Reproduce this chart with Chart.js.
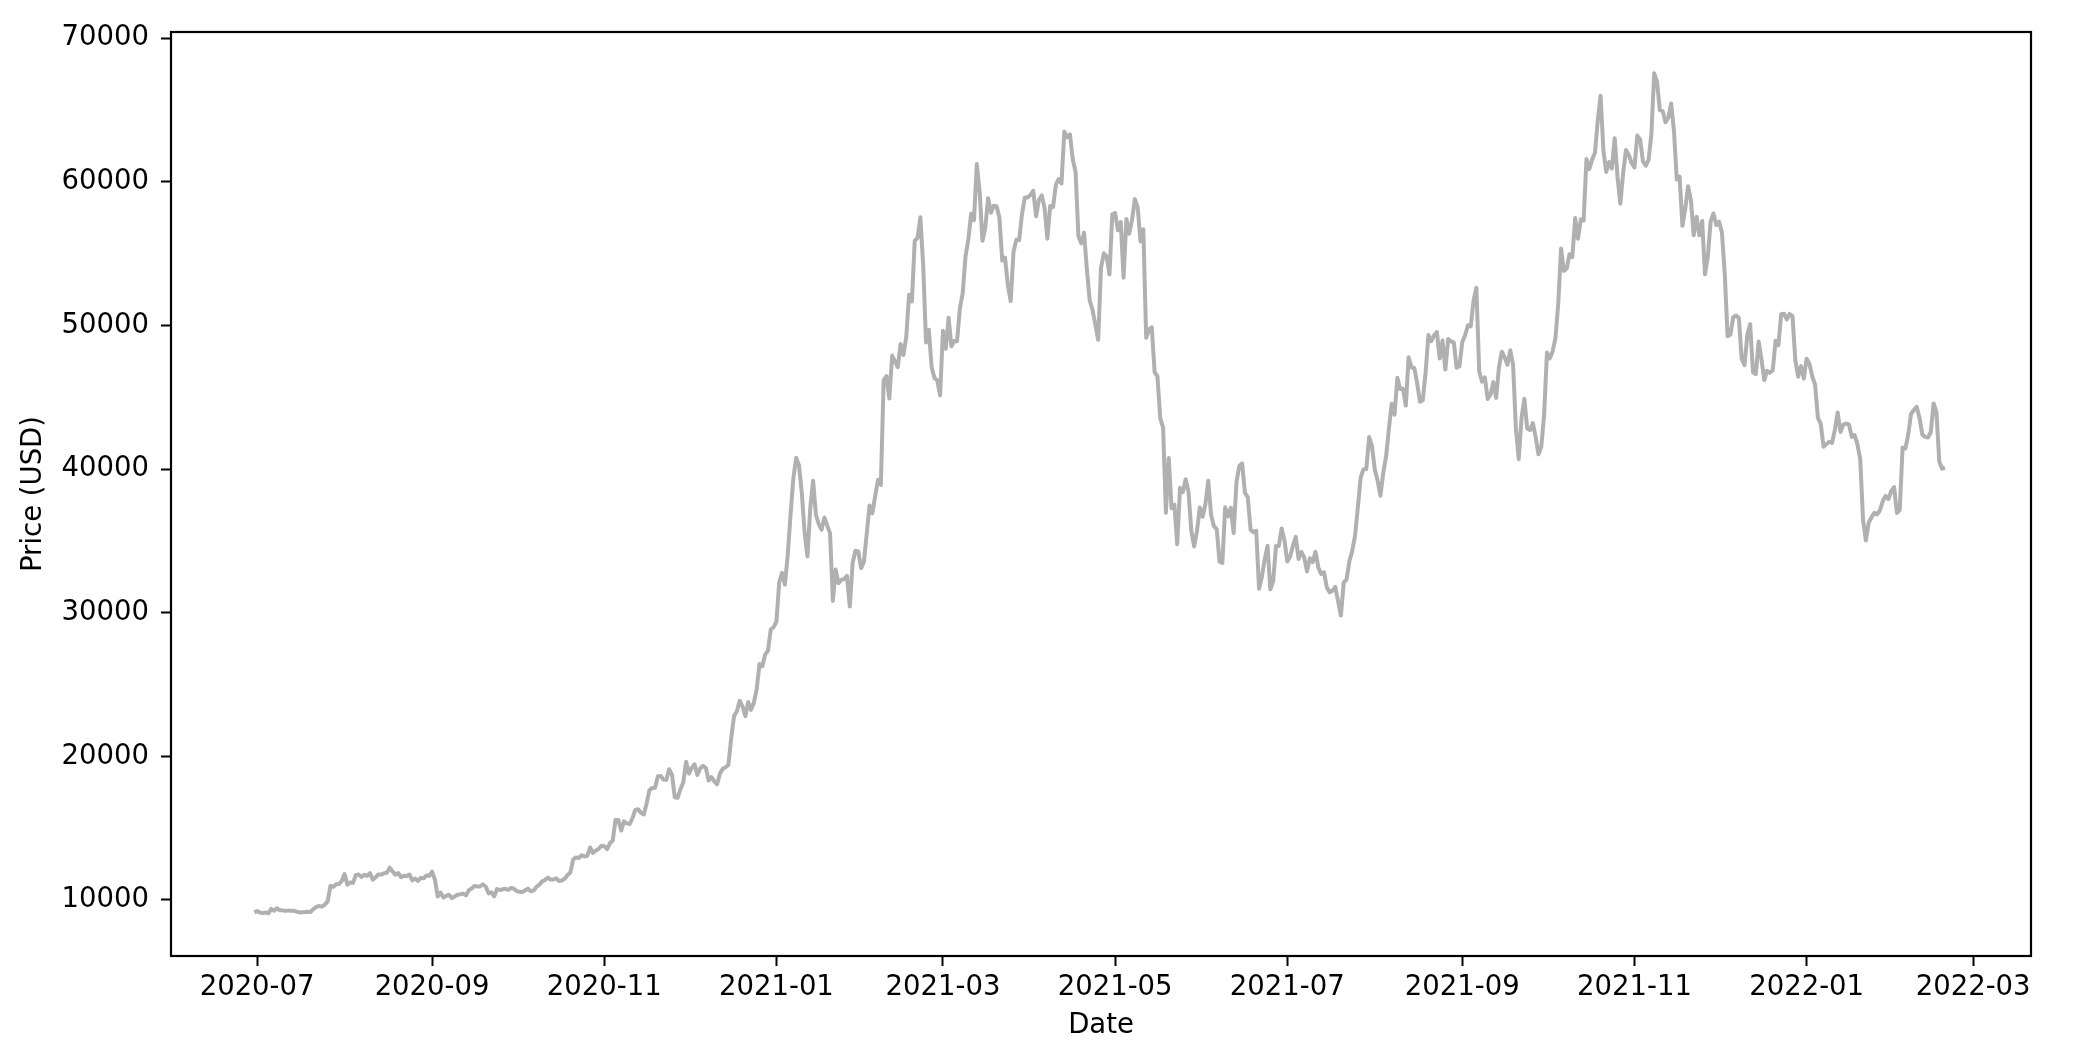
<!DOCTYPE html>
<html>
<head>
<meta charset="utf-8">
<script src="https://cdn.jsdelivr.net/npm/chart.js@4.4.1/dist/chart.umd.min.js"></script>
<style>
  html, body { margin: 0; padding: 0; background: #fff; }
  canvas { display: block; }
</style>
</head>
<body>
<canvas id="myChart" width="2086" height="1060"></canvas>
<script>
// 日次終値 (USD)、月ごとの配列
const jun2020 = [9137];
const jul2020 = [9228, 9123, 9087, 9132, 9073, 9375, 9252, 9428, 9277, 9278, 9240, 9276, 9243, 9243, 9192, 9132,
  9151, 9159, 9185, 9165, 9374, 9525, 9581, 9536, 9677, 9905, 10990, 10912, 11100, 11111, 11323];
const aug2020 = [11802, 11071, 11219, 11191, 11744, 11768, 11601, 11755, 11675, 11878, 11411, 11584, 11784, 11768,
  11865, 11892, 12254, 11991, 11758, 11878, 11592, 11681, 11664, 11774, 11366, 11488, 11323, 11542, 11507, 11711, 11680];
const sep2020 = [11970, 11414, 10245, 10511, 10169, 10280, 10370, 10131, 10242, 10364, 10400, 10442, 10323, 10680,
  10796, 10974, 10948, 10944, 11094, 10938, 10462, 10538, 10246, 10760, 10692, 10750, 10776, 10709, 10844, 10784];
const oct2020 = [10619, 10575, 10550, 10677, 10793, 10604, 10668, 10915, 11065, 11296, 11384, 11555, 11426, 11430,
  11505, 11322, 11358, 11484, 11742, 11916, 12823, 12965, 12931, 13108, 13031, 13075, 13654, 13271, 13438, 13547, 13781];
const nov2020 = [13737, 13550, 13950, 14133, 15579, 15565, 14833, 15479, 15332, 15290, 15701, 16276, 16317, 16068,
  15955, 16716, 17645, 17804, 17817, 18621, 18642, 18370, 18364, 19107, 18732, 17150, 17108, 17717, 18177, 19625];
const dec2020 = [18802, 19201, 19445, 18699, 19154, 19345, 19191, 18321, 18553, 18264, 18058, 18803, 19142, 19246,
  19417, 21310, 22805, 23137, 23869, 23477, 22803, 23783, 23241, 23735, 24664, 26437, 26272, 27084, 27362, 28840, 29001];
const jan2021 = [29374, 32127, 32782, 31971, 33992, 36824, 39371, 40797, 40254, 38356, 35566, 33922, 37316, 39187,
  36825, 36178, 35791, 36630, 36069, 35547, 30825, 33005, 32067, 32289, 32366, 32569, 30432, 33466, 34316, 34269, 33114];
const feb2021 = [33538, 35510, 37472, 36926, 38144, 39266, 38903, 46196, 46481, 44918, 47909, 47504, 47106, 48717,
  47945, 49199, 52149, 51679, 55888, 56099, 57539, 54207, 48824, 49705, 47093, 46339, 46188, 45137];
const mar2021 = [49631, 48378, 50538, 48561, 48927, 48912, 51206, 52246, 54824, 56008, 57805, 57332, 61243, 59302,
  55907, 56804, 58870, 57858, 58346, 58313, 57523, 54529, 54738, 52774, 51704, 55137, 55974, 55947, 57750, 58918, 58918];
const apr2021 = [59095, 59384, 57603, 58758, 59057, 58192, 56048, 58323, 58245, 59793, 60204, 59893, 63503, 63109,
  63314, 61572, 60683, 56216, 55724, 56473, 53906, 51762, 51093, 50050, 49004, 54021, 55033, 54824, 53555, 57750];
const may2021 = [57828, 56631, 57200, 53333, 57424, 56396, 57356, 58803, 58232, 55859, 56704, 49150, 49716, 49880,
  46760, 46456, 43537, 42909, 36964, 40784, 37280, 37528, 34770, 38705, 38402, 39294, 38436, 35697, 34616, 35678, 37332];
const jun2021 = [36684, 37575, 39187, 36825, 36026, 35820, 33560, 33472, 37345, 36703, 37313, 35551, 39097, 40219,
  40406, 38347, 38053, 35787, 35615, 35698, 31676, 32505, 33723, 34662, 31637, 32186, 34650, 34649, 35867, 35040];
const jul2021 = [33572, 33897, 34668, 35287, 33746, 34235, 33855, 32877, 33798, 33520, 34240, 33155, 32702, 32822,
  31780, 31421, 31533, 31796, 30817, 29807, 32110, 32313, 33581, 34292, 35350, 37337, 39406, 39995, 40008, 42235, 41626];
const aug2021 = [39974, 39201, 38152, 39747, 40869, 42816, 44555, 43798, 46365, 45585, 45593, 44428, 47793, 47096,
  47047, 46004, 44695, 44801, 46717, 49339, 48905, 49321, 49546, 47706, 48960, 46942, 49058, 48903, 48829, 47054, 47166];
const sep2021 = [48847, 49327, 50025, 49944, 51753, 52633, 46811, 46091, 46391, 44883, 45201, 46063, 44963, 47092,
  48176, 47783, 47267, 48278, 47260, 42844, 40694, 43575, 44895, 42840, 42716, 43208, 42235, 41034, 41564, 43790];
const oct2021 = [48116, 47711, 48199, 49112, 51514, 55361, 53806, 53967, 54968, 54771, 57484, 56041, 57401, 57321,
  61593, 60892, 61553, 62026, 64262, 65993, 62210, 60692, 61393, 60931, 63039, 60363, 58482, 60622, 62228, 61889, 61318];
const nov2021 = [61005, 63226, 62970, 61452, 61126, 61528, 63326, 67566, 66971, 64995, 64949, 64155, 64469, 65466,
  63557, 60161, 60368, 56942, 58119, 59697, 58730, 56289, 57569, 56280, 57274, 53569, 54815, 57248, 57806, 57005];
const dec2021 = [57229, 56477, 53598, 49253, 49368, 50582, 50700, 50505, 47672, 47243, 49362, 50098, 46737, 46613,
  48896, 47665, 46202, 46848, 46707, 46880, 48936, 48628, 50784, 50822, 50429, 50809, 50640, 47588, 46444, 47178, 46306];
const jan2022 = [47686, 47345, 46458, 45897, 43569, 43160, 41558, 41734, 41911, 41821, 42735, 43949, 42591, 43099,
  43177, 43113, 42250, 42375, 41744, 40680, 36457, 35030, 36276, 36654, 36954, 36852, 37138, 37784, 38138, 37917, 38483];
const feb2022 = [38743, 36952, 37154, 41500, 41441, 42412, 43840, 44118, 44338, 43565, 42407, 42244, 42197, 42586,
  44575, 43961, 40538, 40030, 40122];

// 各配列の最初の日付
const startDates = ['2020-06-30', '2020-07-01', '2020-08-01', '2020-09-01', '2020-10-01', '2020-11-01', '2020-12-01',
  '2021-01-01', '2021-02-01', '2021-03-01', '2021-04-01', '2021-05-01', '2021-06-01', '2021-07-01', '2021-08-01',
  '2021-09-01', '2021-10-01', '2021-11-01', '2021-12-01', '2022-01-01', '2022-02-01'];
const monthly = [jun2020, jul2020, aug2020, sep2020, oct2020, nov2020, dec2020, jan2021, feb2021, mar2021, apr2021,
  may2021, jun2021, jul2021, aug2021, sep2021, oct2021, nov2021, dec2021, jan2022, feb2022];

// 目盛りラベル
const xTickLabels = ['2020-07', '2020-09', '2020-11', '2021-01', '2021-03', '2021-05', '2021-07', '2021-09',
  '2021-11', '2022-01', '2022-03'];
const yTickValues = [10000, 20000, 30000, 40000, 50000, 60000, 70000];

const DAY = 86400000;
const toMs = s => Date.UTC(+s.slice(0, 4), +s.slice(5, 7) - 1, s.length > 7 ? +s.slice(8, 10) : 1);

const points = [];
monthly.forEach((arr, i) => {
  const t0 = toMs(startDates[i]);
  arr.forEach((v, d) => points.push({ x: t0 + d * DAY, y: v }));
});

const FONT = { family: 'DejaVu Sans', size: 27.5 };

// 枠線（matplotlib風）
const frame = {
  id: 'frame',
  afterDatasetsDraw(chart) {
    const { ctx, chartArea: a } = chart;
    ctx.save();
    ctx.strokeStyle = '#000';
    ctx.lineWidth = 2.2;
    ctx.strokeRect(a.left, a.top, a.right - a.left, a.bottom - a.top);
    ctx.restore();
  }
};

const config = {
  type: 'line',
  data: {
    datasets: [{
      data: points,
      borderColor: '#b0b0b0',
      borderWidth: 4,
      pointRadius: 0,
      tension: 0,
      borderJoinStyle: 'round',
      fill: false,
    }]
  },
  options: {
    responsive: false,
    devicePixelRatio: 1,
    animation: false,
    layout: { padding: { left: 0, top: 32, right: 55, bottom: 0 } },
    plugins: { legend: { display: false }, tooltip: { enabled: false } },
    scales: {
      x: {
        type: 'linear',
        min: Date.UTC(2020, 4, 31, 12),
        max: Date.UTC(2022, 2, 21, 12),
        afterBuildTicks: s => { s.ticks = xTickLabels.map(l => ({ value: toMs(l) })); },
        afterFit: s => { s.height = 104; },
        grid: { display: true, drawOnChartArea: false, drawTicks: true, tickLength: 10, tickWidth: 2, tickColor: '#000' },
        border: { display: false },
        ticks: {
          autoSkip: false, maxRotation: 0, padding: 5, color: '#000', font: FONT,
          callback: v => new Date(v).toISOString().slice(0, 7)
        },
        title: { display: true, text: 'Date', color: '#000', font: FONT, padding: 18 }
      },
      y: {
        min: 6100,
        max: 70440,
        afterBuildTicks: s => { s.ticks = yTickValues.map(v => ({ value: v })); },
        afterFit: s => { s.width = 171; },
        grid: { display: true, drawOnChartArea: false, drawTicks: true, tickLength: 10, tickWidth: 2, tickColor: '#000' },
        border: { display: false },
        ticks: { padding: 12, color: '#000', font: FONT, callback: v => String(v) },
        title: { display: true, text: 'Price (USD)', color: '#000', font: FONT, padding: 17 }
      }
    }
  },
  plugins: [frame]
};

const myChart = new Chart(document.getElementById('myChart'), config);
</script>
</body>
</html>
